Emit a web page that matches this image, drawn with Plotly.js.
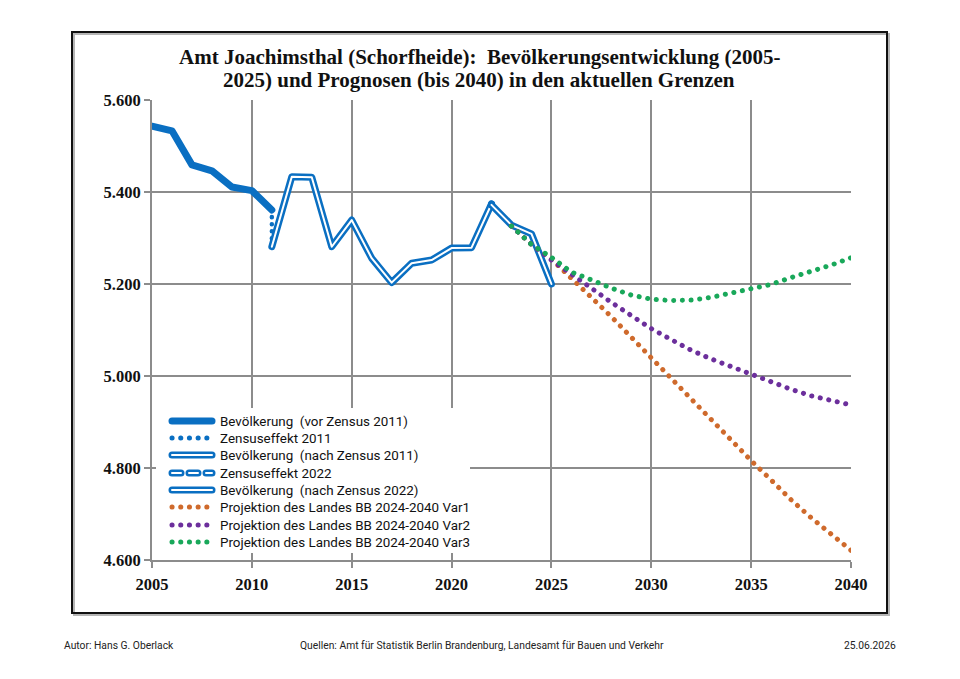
<!DOCTYPE html>
<html>
<head>
<meta charset="utf-8">
<script src="https://cdn.plot.ly/plotly-3.0.1.min.js"></script>
<style>
  html, body { margin: 0; padding: 0; background: #fff; }
  #chart { width: 960px; height: 679px; }
  /* round dots for dotted series and rounded ends for legend samples */
  path.js-line { stroke-linecap: round !important; stroke-linejoin: round !important; }
  .shapelayer path { stroke-linecap: round; }
</style>
</head>
<body>
<div id="chart"></div>
<script>
// Population, Amt Joachimsthal (Schorfheide)
const yearsBefore2011 = [2005, 2006, 2007, 2008, 2009, 2010, 2011];
const popBefore2011   = [5543, 5533, 5459, 5446, 5411, 5403, 5361];

const censusEffect2011Years = [2011, 2011];
const censusEffect2011Pop   = [5361, 5281];

const yearsAfter2011 = [2011, 2012, 2013, 2014, 2015, 2016, 2017, 2018, 2019, 2020, 2021, 2022];
const popAfter2011   = [5281, 5433, 5432, 5281, 5339, 5256, 5203, 5245, 5252, 5278, 5279, 5374];

const censusEffect2022Years = [2022, 2022];
const censusEffect2022Pop   = [5374, 5372];

const yearsAfter2022 = [2022, 2023, 2024, 2025];
const popAfter2022   = [5372, 5328, 5309, 5200];

// State projections 2024-2040 (Land Brandenburg)
const projYears = [2023, 2024, 2025, 2026, 2027, 2028, 2029, 2030, 2031, 2032,
                   2033, 2034, 2035, 2036, 2037, 2038, 2039, 2040];
const projVar1 = [5326, 5286, 5254, 5211, 5171, 5129, 5084, 5041, 4993, 4948,
                  4903, 4859, 4816, 4774, 4731, 4692, 4655, 4621];
const projVar2 = [5326, 5286, 5252, 5220, 5191, 5160, 5131, 5103, 5079, 5056,
                  5037, 5020, 5004, 4988, 4971, 4957, 4947, 4937];
const projVar3 = [5326, 5286, 5258, 5226, 5209, 5191, 5176, 5167, 5164, 5165,
                  5171, 5181, 5190, 5199, 5214, 5227, 5241, 5257];

const xTicks = [2005, 2010, 2015, 2020, 2025, 2030, 2035, 2040];
const yTicks = [4600, 4800, 5000, 5200, 5400, 5600];

const titleLines = [
  'Amt Joachimsthal (Schorfheide):  Bevölkerungsentwicklung (2005-',
  '2025) und Prognosen (bis 2040) in den aktuellen Grenzen'
];

const legendLabels = [
  'Bevölkerung  (vor Zensus 2011)',
  'Zensuseffekt 2011',
  'Bevölkerung  (nach Zensus 2011)',
  'Zensuseffekt 2022',
  'Bevölkerung  (nach Zensus 2022)',
  'Projektion des Landes BB 2024-2040 Var1',
  'Projektion des Landes BB 2024-2040 Var2',
  'Projektion des Landes BB 2024-2040 Var3'
];

const footerAuthor = 'Autor: Hans G. Oberlack';
const footerSources = 'Quellen: Amt für Statistik Berlin Brandenburg, Landesamt für Bauen und Verkehr';
const footerDate = '25.06.2026';

const BLUE = '#0a6fc2';
const ORANGE = '#cf6a2c';
const PURPLE = '#6c2f9c';
const GREEN = '#19a85a';
const DOTS = '0.1px,8.6px';

function line(x, y, color, width, dash) {
  return { x: x, y: y, type: 'scatter', mode: 'lines', hoverinfo: 'skip',
           showlegend: false, line: { color: color, width: width, dash: dash || 'solid' } };
}

const traces = [
  line(yearsBefore2011, popBefore2011, BLUE, 7),
  line(censusEffect2011Years, censusEffect2011Pop, BLUE, 4.5, '0.1px,7px'),
  line(yearsAfter2011, popAfter2011, BLUE, 7),
  line(yearsAfter2011, popAfter2011, '#ffffff', 2),
  line(censusEffect2022Years, censusEffect2022Pop, BLUE, 7, '6px,4px'),
  line(censusEffect2022Years, censusEffect2022Pop, '#ffffff', 2, '6px,4px'),
  line(yearsAfter2022, popAfter2022, BLUE, 7),
  line(yearsAfter2022, popAfter2022, '#ffffff', 2),
  line(projYears, projVar1, ORANGE, 5, DOTS),
  line(projYears, projVar2, PURPLE, 5, DOTS),
  line(projYears, projVar3, GREEN, 5, DOTS)
];

// page geometry (plot area 152..851 x 100..560 px)
const L = 152, R = 851, T = 100, B = 560, W = 960, H = 679;
const px = v => (v - L) / (R - L);
const py = v => (B - v) / (B - T);

const shapes = [];
const annotations = [];

// outer frame with a light shadow
shapes.push({ type: 'rect', xref: 'paper', yref: 'paper', layer: 'below',
  x0: px(74), x1: px(889), y0: py(34), y1: py(615), line: { color: '#b5b5b5', width: 2 } });
shapes.push({ type: 'rect', xref: 'paper', yref: 'paper', layer: 'below',
  x0: px(72), x1: px(887), y0: py(32), y1: py(613), line: { color: '#111', width: 2 }, fillcolor: 'rgba(0,0,0,0)' });

// two-line heading
const titleFont = { family: '"Liberation Serif", "DejaVu Serif", serif', size: 21, color: '#111', weight: 'bold' };
annotations.push({ xref: 'paper', yref: 'paper', x: px(479), y: py(57), xanchor: 'center', yanchor: 'middle',
  showarrow: false, text: titleLines[0], font: titleFont });
annotations.push({ xref: 'paper', yref: 'paper', x: px(479), y: py(80), xanchor: 'center', yanchor: 'middle',
  showarrow: false, text: titleLines[1], font: titleFont });

// legend panel
shapes.push({ type: 'rect', xref: 'paper', yref: 'paper', layer: 'above',
  x0: px(156), x1: px(470), y0: py(408), y1: py(553), line: { width: 0 }, fillcolor: '#ffffff' });

const legRowY = [421, 438, 455, 473, 490, 507, 525, 542];
const sx0 = 172, sx1 = 212;
function seg(y, color, width, dash) {
  shapes.push({ type: 'line', xref: 'paper', yref: 'paper', layer: 'above',
    x0: px(sx0), x1: px(sx1), y0: py(y), y1: py(y),
    line: { color: color, width: width, dash: dash || 'solid' } });
}
seg(legRowY[0], BLUE, 7);
seg(legRowY[1], BLUE, 5, '0.1px,8.6px');
seg(legRowY[2], BLUE, 7); seg(legRowY[2], '#ffffff', 2);
seg(legRowY[3], BLUE, 7, '9px,8px'); seg(legRowY[3], '#ffffff', 2, '9px,8px');
seg(legRowY[4], BLUE, 7); seg(legRowY[4], '#ffffff', 2);
seg(legRowY[5], ORANGE, 5, DOTS);
seg(legRowY[6], PURPLE, 5, DOTS);
seg(legRowY[7], GREEN, 5, DOTS);

legendLabels.forEach((t, i) => {
  annotations.push({ xref: 'paper', yref: 'paper', x: px(218), y: py(legRowY[i]),
    xanchor: 'left', yanchor: 'middle', showarrow: false, text: t,
    font: { family: 'Roboto, "Noto Sans", sans-serif', size: 13.4, color: '#111' } });
});

// footer
const footFont = { family: 'Roboto, "Noto Sans", sans-serif', size: 10.3, color: '#222' };
annotations.push({ xref: 'paper', yref: 'paper', x: px(62), y: py(645), xanchor: 'left', yanchor: 'middle',
  showarrow: false, text: footerAuthor, font: footFont });
annotations.push({ xref: 'paper', yref: 'paper', x: px(298), y: py(645), xanchor: 'left', yanchor: 'middle',
  showarrow: false, text: footerSources, font: footFont });
annotations.push({ xref: 'paper', yref: 'paper', x: px(898), y: py(645), xanchor: 'right', yanchor: 'middle',
  showarrow: false, text: footerDate, font: footFont });

const tickFont = { family: '"Liberation Serif", "DejaVu Serif", serif', size: 16.5, color: '#111', weight: 'bold' };

const layout = {
  width: W, height: H,
  margin: { l: L, r: W - R, t: T, b: H - B, pad: 0 },
  paper_bgcolor: '#ffffff', plot_bgcolor: '#ffffff',
  separators: ',.',
  showlegend: false,
  xaxis: {
    range: [2005, 2040], tickvals: xTicks, ticktext: xTicks.map(String),
    showgrid: true, gridcolor: '#8c8c8c', gridwidth: 2,
    showline: true, linecolor: '#8c8c8c', linewidth: 2,
    ticks: 'outside', ticklen: 6, tickwidth: 2, tickcolor: '#8c8c8c',
    ticklabelstandoff: 2,
    tickfont: tickFont, zeroline: false, fixedrange: true
  },
  yaxis: {
    range: [4600, 5600], tickvals: yTicks, tickformat: ',d',
    showgrid: true, gridcolor: '#8c8c8c', gridwidth: 2,
    showline: true, linecolor: '#8c8c8c', linewidth: 2,
    ticks: 'outside', ticklen: 6, tickwidth: 2, tickcolor: '#8c8c8c',
    tickfont: tickFont, zeroline: false, fixedrange: true
  },
  shapes: shapes,
  annotations: annotations
};

Plotly.newPlot('chart', traces, layout, { staticPlot: true, displayModeBar: false });
</script>
</body>
</html>
